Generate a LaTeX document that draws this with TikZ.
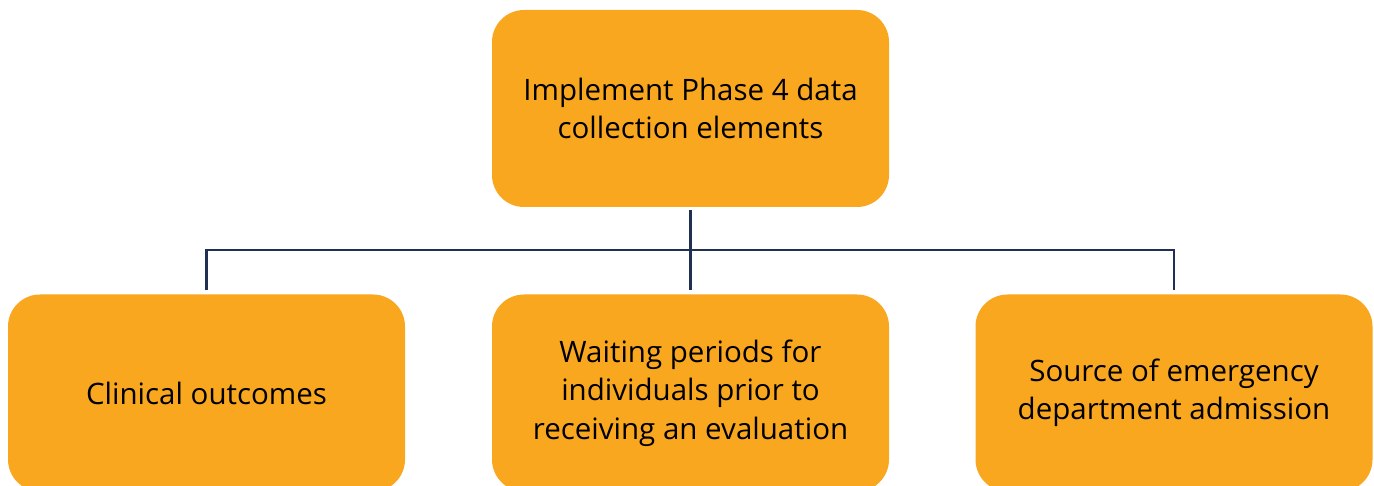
\documentclass[tikz,border=0pt]{standalone}
\usepackage{fontspec}
\setmainfont{Open Sans}
\usepackage{tikz}
\definecolor{boxorange}{HTML}{F8A71F}
\definecolor{linknavy}{HTML}{1F3050}
\tikzset{
    every node/.style={rounded corners=32pt, fill=boxorange, minimum width=397pt,
    	minimum height=197pt, align=center, inner sep=0pt,
    	font=\fontsize{29.5}{38.5}\selectfont}
}
\tikzset{
    link/.style={draw=linknavy, line width=2.5pt, shorten <=4pt, shorten >=4pt}
}

\begin{document}
\begin{tikzpicture}[x=1pt, y=1pt]
	\useasboundingbox (0,0) rectangle (1374,485);
	\clip (0,0) rectangle (1374,485);
	\node (top) at (690.5, 376.5) {Implement Phase 4 data\\collection elements};
	\node (clin) at (206.5, 92) {Clinical outcomes};
	\node (wait) at (690.5, 92) {Waiting periods for\\individuals prior to\\receiving an evaluation};
	\node (src) at (1174, 92) {Source of emergency\\department admission};
	\coordinate (hub) at (690.5, 235);
	
	\draw[link, shorten <=3pt] (top) -- (wait);
	\draw[link] (clin.north) |- (hub) -| (src.north);
\end{tikzpicture}
\end{document}
